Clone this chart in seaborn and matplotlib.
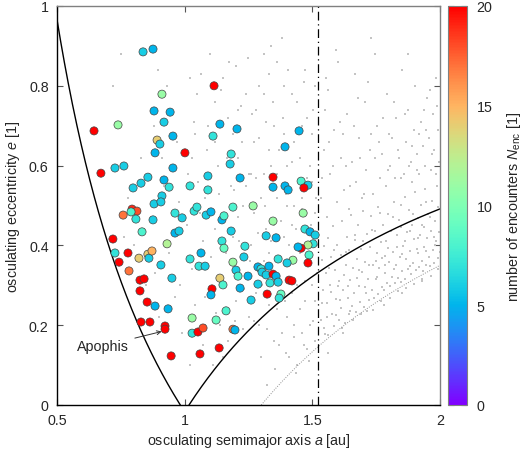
import numpy as np
import pandas as pd
import matplotlib
matplotlib.use("Agg")
import matplotlib.pyplot as plt
import seaborn as sns
from matplotlib.ticker import FuncFormatter, FixedLocator
from matplotlib.cm import ScalarMappable
from matplotlib.colors import Normalize

# close-encounter asteroids: osculating a [au], e [1], number of encounters
enc_a = [0.837, 0.876, 1.115, 0.911, 0.880, 0.943, 0.919, 1.138, 1.205, 0.645,
         0.739, 0.892, 0.903, 0.954, 1.111, 0.884, 1.001, 1.182, 1.178, 0.672,
         0.727, 0.762, 0.954, 1.217, 1.091, 0.856, 0.919, 0.829, 0.798, 0.939,
         1.021, 1.091, 0.911, 0.880, 0.907, 0.794, 0.813, 0.759, 0.790, 0.809,
         0.876, 0.962, 0.990, 1.037, 1.048, 1.084, 1.103, 1.146, 1.154, 1.189,
         1.268, 1.448, 1.393, 1.346, 1.346, 1.393, 1.405, 1.456, 1.483, 1.467,
         1.464, 1.346, 1.471, 0.719, 0.727, 0.778, 0.743, 0.782, 0.821, 0.856,
         0.860, 0.872, 0.931, 0.962, 0.978, 0.833, 0.825, 0.841, 0.825, 0.853,
         0.884, 0.935, 0.907, 0.950, 0.829, 0.864, 0.923, 0.923, 0.947, 1.021,
         1.064, 1.056, 1.080, 1.029, 1.029, 1.052, 1.072, 1.135, 1.060, 1.107,
         1.103, 1.138, 1.150, 1.162, 1.123, 1.189, 1.197, 1.182, 1.146, 1.154,
         1.189, 1.201, 1.209, 1.217, 1.248, 1.260, 1.236, 1.232, 1.287, 1.287,
         1.491, 1.511, 1.503, 1.483, 1.456, 1.444, 1.487, 1.483, 1.424, 1.401,
         1.366, 1.358, 1.319, 1.299, 1.303, 1.319, 1.330, 1.346, 1.358,
         1.334, 1.366, 1.409, 1.420, 1.323, 1.377, 1.370]
enc_e = [0.885, 0.892, 0.800, 0.779, 0.737, 0.734, 0.709, 0.704, 0.692, 0.687,
         0.702, 0.664, 0.654, 0.674, 0.674, 0.632, 0.632, 0.629, 0.604, 0.581,
         0.594, 0.599, 0.594, 0.569, 0.574, 0.571, 0.564, 0.556, 0.544, 0.546,
         0.549, 0.539, 0.524, 0.504, 0.509, 0.491, 0.486, 0.476, 0.484, 0.466,
         0.464, 0.481, 0.469, 0.486, 0.496, 0.476, 0.484, 0.464, 0.474, 0.496,
         0.499, 0.687, 0.647, 0.571, 0.546, 0.549, 0.539, 0.561, 0.551, 0.544,
         0.481, 0.461, 0.441, 0.416, 0.381, 0.381, 0.358, 0.336, 0.368, 0.378,
         0.368, 0.386, 0.404, 0.431, 0.436, 0.434, 0.313, 0.316, 0.286, 0.258,
         0.248, 0.241, 0.351, 0.318, 0.208, 0.208, 0.198, 0.190, 0.123, 0.366,
         0.381, 0.348, 0.348, 0.218, 0.180, 0.183, 0.193, 0.143, 0.128, 0.291,
         0.276, 0.318, 0.301, 0.236, 0.213, 0.190, 0.188, 0.436, 0.411, 0.393,
         0.358, 0.338, 0.323, 0.293, 0.323, 0.263, 0.398, 0.371, 0.346, 0.303,
         0.434, 0.426, 0.404, 0.401, 0.393, 0.396, 0.376, 0.356, 0.363, 0.356,
         0.366, 0.419, 0.424, 0.341, 0.333, 0.326, 0.348, 0.328, 0.323,
         0.306, 0.308, 0.313, 0.311, 0.278, 0.278, 0.268]
enc_n = [6, 5, 20, 11, 5, 5, 6, 5, 5, 20,
         11, 14, 6, 5, 7, 5, 20, 7, 6, 20,
         6, 6, 5, 5, 6, 6, 5, 6, 6, 7,
         7, 7, 6, 6, 6, 19, 18, 17, 8, 7,
         6, 7, 6, 7, 7, 6, 5, 5, 8, 8,
         11, 5, 5, 20, 5, 5, 5, 8, 6, 20,
         11, 11, 7, 20, 7, 20, 20, 17, 14, 14,
         6, 15, 12, 5, 6, 8, 20, 20, 20, 20,
         5, 5, 6, 6, 20, 20, 20, 20, 20, 7,
         5, 7, 6, 11, 7, 20, 18, 20, 20, 20,
         5, 14, 8, 8, 9, 17, 5, 6, 7, 9,
         11, 6, 8, 5, 5, 6, 7, 6, 5, 6,
         5, 6, 7, 12, 20, 5, 8, 20, 11, 6,
         7, 5, 6, 7, 6, 6, 5, 20, 5,
         7, 6, 20, 20, 20, 9, 7]

# background near-Earth objects (grey dots) inside the Mars orbit
field_inner = [(0.72, 0.80), (0.78, 0.52), (0.80, 0.40), (0.83, 0.62), (0.85, 0.30),
               (0.87, 0.47), (0.88, 0.70), (0.90, 0.22), (0.92, 0.55), (0.94, 0.38),
               (0.95, 0.12), (0.97, 0.66), (0.98, 0.30), (0.99, 0.18), (0.93, 0.80),
               (0.86, 0.58), (0.81, 0.48), (0.752, 0.88), (0.842, 0.44), (0.884, 0.33),
               (0.912, 0.62), (0.963, 0.27), (0.978, 0.51), (0.895, 0.84), (0.761, 0.42),
               (1.01, 0.45), (1.02, 0.10), (1.03, 0.62), (1.04, 0.25), (1.05, 0.78),
               (1.06, 0.35), (1.07, 0.15), (1.08, 0.52), (1.09, 0.70), (1.10, 0.28),
               (1.11, 0.10), (1.12, 0.44), (1.13, 0.60), (1.14, 0.20), (1.15, 0.82),
               (1.16, 0.38), (1.17, 0.16), (1.18, 0.55), (1.19, 0.68), (1.20, 0.26),
               (1.21, 0.47), (1.22, 0.75), (1.23, 0.19), (1.24, 0.33), (1.25, 0.58),
               (1.02, 0.82), (1.06, 0.48), (1.10, 0.88), (1.13, 0.32), (1.17, 0.72),
               (1.21, 0.62), (1.24, 0.78), (1.08, 0.20), (1.15, 0.12), (1.19, 0.42),
               (1.23, 0.50), (1.04, 0.68), (1.12, 0.76), (1.20, 0.85), (1.25, 0.22),
               (1.26, 0.40), (1.27, 0.66), (1.28, 0.28), (1.29, 0.80), (1.30, 0.52),
               (1.31, 0.36), (1.32, 0.71), (1.33, 0.25), (1.34, 0.60), (1.35, 0.45),
               (1.36, 0.86), (1.37, 0.31), (1.38, 0.55), (1.39, 0.68), (1.40, 0.22),
               (1.41, 0.40), (1.42, 0.78), (1.43, 0.50), (1.44, 0.30), (1.45, 0.62),
               (1.46, 0.18), (1.47, 0.44), (1.48, 0.72), (1.49, 0.35), (1.50, 0.56),
               (1.51, 0.26), (1.27, 0.48), (1.29, 0.20), (1.31, 0.58), (1.33, 0.83),
               (1.35, 0.16), (1.37, 0.64), (1.39, 0.42), (1.41, 0.12), (1.43, 0.66),
               (1.45, 0.38), (1.47, 0.84), (1.49, 0.20), (1.51, 0.48), (1.28, 0.74),
               (1.30, 0.12), (1.32, 0.44), (1.34, 0.90), (1.36, 0.52), (1.38, 0.18),
               (1.40, 0.60), (1.42, 0.28), (1.44, 0.76), (1.46, 0.52), (1.48, 0.14),
               (1.50, 0.68), (1.26, 0.58), (1.33, 0.38), (1.39, 0.80), (1.44, 0.10),
               (1.47, 0.26), (1.50, 0.30), (1.52, 0.40), (1.36, 0.24), (1.42, 0.45),
               (1.49, 0.60), (1.31, 0.88), (1.46, 0.70), (1.40, 0.50), (1.35, 0.70),
               (1.29, 0.34), (1.43, 0.20), (1.48, 0.38), (1.51, 0.80), (1.38, 0.92),
               (1.013, 0.58), (1.027, 0.34), (1.038, 0.71), (1.046, 0.18), (1.052, 0.56),
               (1.063, 0.83), (1.071, 0.41), (1.079, 0.27), (1.087, 0.64), (1.096, 0.49),
               (1.104, 0.37), (1.118, 0.66), (1.124, 0.23), (1.133, 0.53), (1.142, 0.79),
               (1.151, 0.31), (1.158, 0.47), (1.166, 0.62), (1.174, 0.86), (1.183, 0.36),
               (1.192, 0.54), (1.198, 0.21), (1.207, 0.74), (1.214, 0.41), (1.226, 0.66),
               (1.233, 0.29), (1.241, 0.55), (1.249, 0.87), (1.256, 0.36), (1.264, 0.73),
               (1.271, 0.21), (1.278, 0.57), (1.286, 0.43), (1.293, 0.67), (1.301, 0.30),
               (1.309, 0.78), (1.316, 0.50), (1.324, 0.19), (1.331, 0.64), (1.339, 0.41),
               (1.346, 0.76), (1.353, 0.33), (1.361, 0.58), (1.368, 0.15), (1.376, 0.46),
               (1.384, 0.72), (1.391, 0.26), (1.398, 0.53), (1.406, 0.84), (1.413, 0.35),
               (1.421, 0.61), (1.428, 0.17), (1.436, 0.44), (1.442, 0.69), (1.451, 0.24),
               (1.458, 0.49), (1.466, 0.81), (1.473, 0.31), (1.481, 0.57), (1.488, 0.11),
               (1.495, 0.45), (1.503, 0.74), (1.509, 0.16), (1.516, 0.52), (1.519, 0.33),
               (1.352, 0.09), (1.397, 0.13), (1.437, 0.08), (1.468, 0.15), (1.502, 0.21),
               (1.322, 0.05)]

# background objects beyond the Mars orbit: dense band near the Amor region
field_band = [(1.534, 0.212), (1.541, 0.287), (1.538, 0.364), (1.547, 0.193), (1.552, 0.331),
              (1.556, 0.255), (1.561, 0.418), (1.563, 0.176), (1.569, 0.302), (1.572, 0.371),
              (1.578, 0.228), (1.581, 0.449), (1.585, 0.197), (1.589, 0.338), (1.593, 0.265),
              (1.597, 0.402), (1.603, 0.214), (1.606, 0.311), (1.611, 0.376), (1.614, 0.243),
              (1.618, 0.462), (1.622, 0.289), (1.627, 0.205), (1.631, 0.352), (1.634, 0.421),
              (1.638, 0.268), (1.642, 0.227), (1.645, 0.389), (1.649, 0.314), (1.653, 0.476),
              (1.657, 0.248), (1.661, 0.343), (1.664, 0.281), (1.668, 0.413), (1.672, 0.232),
              (1.676, 0.367), (1.679, 0.452), (1.683, 0.297), (1.687, 0.258), (1.691, 0.391),
              (1.695, 0.333), (1.698, 0.486), (1.703, 0.246), (1.707, 0.359), (1.711, 0.281),
              (1.714, 0.428), (1.718, 0.315), (1.722, 0.262), (1.726, 0.397), (1.729, 0.473),
              (1.733, 0.288), (1.737, 0.352), (1.741, 0.268), (1.745, 0.436), (1.748, 0.317),
              (1.752, 0.381), (1.756, 0.279), (1.759, 0.497), (1.763, 0.343), (1.767, 0.409),
              (1.771, 0.295), (1.774, 0.368), (1.778, 0.452), (1.782, 0.287), (1.786, 0.331),
              (1.789, 0.412), (1.793, 0.306), (1.797, 0.478), (1.801, 0.359), (1.805, 0.298),
              (1.808, 0.437), (1.812, 0.321), (1.816, 0.384), (1.819, 0.509), (1.823, 0.305),
              (1.827, 0.352), (1.831, 0.426), (1.834, 0.318), (1.838, 0.463), (1.842, 0.372),
              (1.846, 0.309), (1.849, 0.445), (1.853, 0.336), (1.857, 0.398), (1.861, 0.522),
              (1.864, 0.317), (1.868, 0.367), (1.872, 0.434), (1.876, 0.341), (1.879, 0.489),
              (1.883, 0.386), (1.887, 0.329), (1.891, 0.452), (1.894, 0.356), (1.898, 0.415),
              (1.902, 0.534), (1.906, 0.338), (1.909, 0.391), (1.913, 0.468), (1.917, 0.347),
              (1.921, 0.427), (1.924, 0.502), (1.928, 0.362), (1.932, 0.336), (1.936, 0.446),
              (1.939, 0.395), (1.943, 0.541), (1.947, 0.352), (1.951, 0.418), (1.954, 0.479),
              (1.958, 0.371), (1.962, 0.348), (1.966, 0.437), (1.969, 0.512), (1.973, 0.389),
              (1.977, 0.356), (1.981, 0.462), (1.984, 0.411), (1.988, 0.548), (1.992, 0.369),
              (1.996, 0.433), (1.545, 0.398), (1.559, 0.221), (1.575, 0.284), (1.591, 0.226),
              (1.609, 0.264), (1.625, 0.327), (1.641, 0.298), (1.659, 0.213), (1.674, 0.318),
              (1.689, 0.228), (1.705, 0.296), (1.721, 0.352), (1.739, 0.239), (1.754, 0.322),
              (1.769, 0.261), (1.785, 0.374), (1.803, 0.268), (1.818, 0.342), (1.836, 0.285),
              (1.851, 0.378), (1.866, 0.292), (1.884, 0.349), (1.899, 0.303), (1.915, 0.382),
              (1.931, 0.315), (1.946, 0.385), (1.963, 0.323), (1.979, 0.402), (1.994, 0.341),
              (1.537, 0.256), (1.551, 0.177), (1.566, 0.343), (1.583, 0.389), (1.599, 0.297),
              (1.616, 0.194), (1.633, 0.383), (1.648, 0.236), (1.666, 0.427), (1.681, 0.339),
              (1.699, 0.412), (1.716, 0.236), (1.732, 0.438), (1.749, 0.362), (1.766, 0.481),
              (1.783, 0.351), (1.798, 0.393), (1.815, 0.472), (1.833, 0.397), (1.848, 0.501),
              (1.863, 0.412), (1.881, 0.436), (1.896, 0.479), (1.912, 0.418), (1.929, 0.452),
              (1.944, 0.509), (1.961, 0.472), (1.976, 0.421), (1.991, 0.497), (1.999, 0.383),
              (1.62, 0.18), (1.78, 0.25), (1.93, 0.31), (1.56, 0.13), (1.85, 0.28)]

# background objects beyond the Mars orbit: sparse high-eccentricity part
field_upper = [(1.532, 0.52), (1.544, 0.64), (1.557, 0.47), (1.563, 0.79), (1.571, 0.58),
               (1.584, 0.69), (1.596, 0.51), (1.602, 0.86), (1.613, 0.62), (1.624, 0.54),
               (1.636, 0.73), (1.643, 0.49), (1.655, 0.61), (1.667, 0.83), (1.671, 0.56),
               (1.684, 0.67), (1.693, 0.52), (1.706, 0.76), (1.712, 0.59), (1.725, 0.64),
               (1.736, 0.53), (1.744, 0.88), (1.753, 0.70), (1.764, 0.57), (1.772, 0.63),
               (1.787, 0.55), (1.792, 0.78), (1.806, 0.60), (1.811, 0.67), (1.824, 0.57),
               (1.829, 0.72), (1.841, 0.62), (1.852, 0.84), (1.859, 0.58), (1.867, 0.66),
               (1.874, 0.74), (1.885, 0.61), (1.892, 0.56), (1.897, 0.69), (1.904, 0.80),
               (1.911, 0.63), (1.918, 0.58), (1.925, 0.71), (1.933, 0.65), (1.941, 0.60),
               (1.948, 0.77), (1.956, 0.67), (1.963, 0.59), (1.971, 0.73), (1.978, 0.64),
               (1.986, 0.82), (1.993, 0.69), (1.997, 0.61), (1.548, 0.74), (1.579, 0.60),
               (1.607, 0.71), (1.633, 0.60), (1.662, 0.70), (1.688, 0.62), (1.719, 0.81),
               (1.747, 0.62), (1.776, 0.72), (1.801, 0.68), (1.834, 0.64), (1.863, 0.73),
               (1.889, 0.65), (1.919, 0.68), (1.945, 0.69), (1.969, 0.63), (1.989, 0.75),
               (1.538, 0.57), (1.565, 0.66), (1.591, 0.89), (1.621, 0.68), (1.649, 0.55),
               (1.678, 0.77), (1.703, 0.53), (1.731, 0.68), (1.761, 0.66), (1.795, 0.59),
               (1.818, 0.76), (1.847, 0.57), (1.878, 0.60), (1.908, 0.59), (1.936, 0.74),
               (1.959, 0.79), (1.983, 0.58), (1.555, 0.82), (1.729, 0.92), (1.874, 0.88)]

# orbit boundaries [au]
earth_q = 0.983      # Earth perihelion
earth_Q = 1.017      # Earth aphelion
amor_q = 1.3
mars_a = 1.524

enc = pd.DataFrame({"a": enc_a, "e": enc_e, "n": enc_n})
field = pd.DataFrame(field_inner + field_band + field_upper, columns=["a", "e"])

sns.set_style("ticks")
plt.rcParams["font.family"] = ["Liberation Sans", "DejaVu Sans"]
plt.rcParams["mathtext.fontset"] = "custom"
plt.rcParams["mathtext.rm"] = "Liberation Sans"
plt.rcParams["mathtext.it"] = "Liberation Sans:italic"
fs = 10.3

fig = plt.figure(figsize=(5.23, 4.52), dpi=100)
ax = fig.add_axes([57 / 523, 46 / 452, 383 / 523, 399 / 452])
cax = fig.add_axes([448 / 523, 46 / 452, 19 / 523, 399 / 452])

sns.scatterplot(data=field, x="a", y="e", ax=ax, color="#c4c4c4", s=2.2,
                linewidth=0, marker="s", legend=False, zorder=1)

# Aten / Apollo / Amor boundaries and Mars orbit
a_in = np.linspace(0.5, earth_q, 200)
ax.plot(a_in, earth_q / a_in - 1, color="black", lw=1.0, zorder=2)
a_out = np.linspace(earth_Q, 2.0, 200)
ax.plot(a_out, 1 - earth_Q / a_out, color="black", lw=1.0, zorder=2)
a_am = np.linspace(amor_q, 2.0, 200)
ax.plot(a_am, 1 - amor_q / a_am, color="#909090", lw=0.7, ls=(0, (1, 1.5)), zorder=2)
ax.axvline(mars_a, color="black", lw=0.9, ls=(0, (7, 3, 1, 3)), zorder=2)

norm = Normalize(0, 20)
sns.scatterplot(data=enc, x="a", y="e", hue="n", palette="rainbow", hue_norm=norm,
                ax=ax, s=34, edgecolor="#444444", linewidth=0.5, legend=False, zorder=3)

ax.annotate("Apophis", xy=(0.915, 0.185), xytext=(0.68, 0.148),
            ha="center", va="center", fontsize=fs,
            arrowprops=dict(arrowstyle="->", lw=0.7, color="#333333",
                            shrinkA=2, shrinkB=1, mutation_scale=7))

ax.set_xlim(0.5, 2.0)
ax.set_ylim(0, 1)
ax.xaxis.set_major_locator(FixedLocator([0.5, 1.0, 1.5, 2.0]))
ax.yaxis.set_major_locator(FixedLocator([0, 0.2, 0.4, 0.6, 0.8, 1.0]))
fmt = FuncFormatter(lambda v, p: "%g" % v)
ax.xaxis.set_major_formatter(fmt)
ax.yaxis.set_major_formatter(fmt)
ax.tick_params(direction="in", length=4, width=0.8, top=True, right=True,
               labelsize=fs, pad=6, color="#555555")
ax.set_xlabel("osculating semimajor axis $a$ [au]", fontsize=fs, labelpad=3)
ax.set_ylabel("osculating eccentricity $e$ [1]", fontsize=fs, labelpad=5)
for side in ["left", "bottom"]:
    ax.spines[side].set_color("black")
    ax.spines[side].set_linewidth(1.0)
for side in ["top", "right"]:
    ax.spines[side].set_color("#808080")
    ax.spines[side].set_linewidth(1.0)

sm = ScalarMappable(norm=norm, cmap="rainbow")
cb = fig.colorbar(sm, cax=cax, ticks=[0, 5, 10, 15, 20])
cb.outline.set_edgecolor("#808080")
cb.outline.set_linewidth(0.8)
cax.tick_params(direction="in", length=4, width=0.8, left=True, right=True,
                labelsize=fs, pad=7, color="#555555")
cb.set_label("number of encounters $N_{\\mathrm{enc}}$ [1]", fontsize=fs, labelpad=9)

fig.savefig("out.png", dpi=100)
